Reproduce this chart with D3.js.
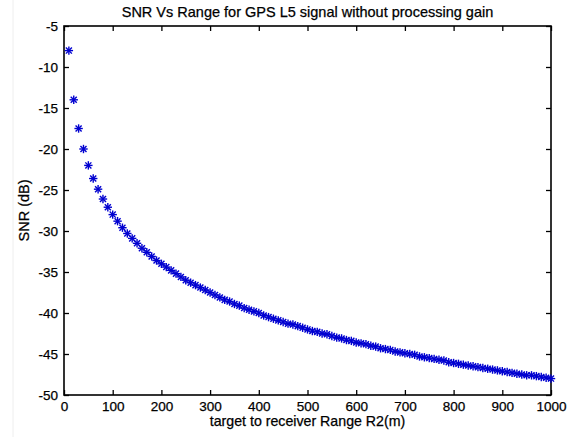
<!DOCTYPE html>
<html>
<head>
<meta charset="utf-8">
<script src="https://cdn.jsdelivr.net/npm/d3@7"></script>
<style>
  body { margin: 0; background: #fff; }
  svg text { font-family: Arial, "Liberation Sans", sans-serif; fill: #000; }
</style>
</head>
<body>
<script>
// target to receiver range R2 (m)
const range = [
  10, 20, 30, 40, 50, 60, 70, 80, 90, 100,
  110, 120, 130, 140, 150, 160, 170, 180, 190, 200,
  210, 220, 230, 240, 250, 260, 270, 280, 290, 300,
  310, 320, 330, 340, 350, 360, 370, 380, 390, 400,
  410, 420, 430, 440, 450, 460, 470, 480, 490, 500,
  510, 520, 530, 540, 550, 560, 570, 580, 590, 600,
  610, 620, 630, 640, 650, 660, 670, 680, 690, 700,
  710, 720, 730, 740, 750, 760, 770, 780, 790, 800,
  810, 820, 830, 840, 850, 860, 870, 880, 890, 900,
  910, 920, 930, 940, 950, 960, 970, 980, 990, 1000
];

// SNR (dB)
const snr = [
  -8.0, -14.0, -17.5, -20.0, -22.0, -23.6, -24.9, -26.1, -27.1, -28.0,
  -28.8, -29.6, -30.3, -30.9, -31.5, -32.1, -32.6, -33.1, -33.6, -34.0,
  -34.4, -34.8, -35.2, -35.6, -36.0, -36.3, -36.6, -36.9, -37.2, -37.5,
  -37.8, -38.1, -38.4, -38.6, -38.9, -39.1, -39.4, -39.6, -39.8, -40.0,
  -40.3, -40.5, -40.7, -40.9, -41.1, -41.3, -41.4, -41.6, -41.8, -42.0,
  -42.2, -42.3, -42.5, -42.6, -42.8, -43.0, -43.1, -43.3, -43.4, -43.6,
  -43.7, -43.8, -44.0, -44.1, -44.3, -44.4, -44.5, -44.7, -44.8, -44.9,
  -45.0, -45.1, -45.3, -45.4, -45.5, -45.6, -45.7, -45.8, -46.0, -46.1,
  -46.2, -46.3, -46.4, -46.5, -46.6, -46.7, -46.8, -46.9, -47.0, -47.1,
  -47.2, -47.3, -47.4, -47.5, -47.6, -47.6, -47.7, -47.8, -47.9, -48.0
];

const xTicks = [0, 100, 200, 300, 400, 500, 600, 700, 800, 900, 1000];
const yTicks = [-50, -45, -40, -35, -30, -25, -20, -15, -10, -5];

const width = 573;
const height = 437;
const margin = { top: 26, right: 22, bottom: 42, left: 64 };

const svg = d3
  .select("body")
  .append("svg")
  .attr("width", width)
  .attr("height", height);

const xScale = d3
  .scaleLinear()
  .domain([0, 1000])
  .range([margin.left, width - margin.right]);

const yScale = d3
  .scaleLinear()
  .domain([-50, -5])
  .range([height - margin.bottom, margin.top]);

// faint figure border on the left
svg
  .append("line")
  .attr("x1", 13)
  .attr("x2", 13)
  .attr("y1", 0)
  .attr("y2", height)
  .attr("stroke", "#eee");

// Axes (ticks inward, mirrored on top and right)
const tickLen = 5;
const plain = (d) => String(d);

svg
  .append("g")
  .attr("class", "xlab")
  .attr("transform", `translate(0, ${height - margin.bottom})`)
  .call(d3.axisBottom(xScale).tickValues(xTicks).tickSize(-tickLen).tickPadding(6).tickFormat(plain))
  .call((g) => g.select(".domain").remove());

svg
  .append("g")
  .attr("transform", `translate(0, ${margin.top})`)
  .call(d3.axisTop(xScale).tickValues(xTicks).tickSize(-tickLen).tickFormat(""))
  .call((g) => g.select(".domain").remove());

svg
  .append("g")
  .attr("transform", `translate(${margin.left}, 0)`)
  .call(d3.axisLeft(yScale).tickValues(yTicks).tickSize(-tickLen).tickPadding(6).tickFormat(plain))
  .call((g) => g.select(".domain").remove());

svg
  .append("g")
  .attr("transform", `translate(${width - margin.right}, 0)`)
  .call(d3.axisRight(yScale).tickValues(yTicks).tickSize(-tickLen).tickFormat(""))
  .call((g) => g.select(".domain").remove());

svg.selectAll(".tick line").attr("stroke", "#000").attr("stroke-width", 1.3);
svg
  .selectAll(".tick text")
  .style("font-size", "13.5px")
  .attr("stroke", "#000")
  .attr("stroke-width", 0.25);

// box
svg
  .append("rect")
  .attr("x", margin.left)
  .attr("y", margin.top)
  .attr("width", width - margin.left - margin.right)
  .attr("height", height - margin.top - margin.bottom)
  .attr("fill", "none")
  .attr("stroke", "#000")
  .attr("stroke-width", 1.6);

// Markers: MATLAB style '*'
const s = 4.2;
const marks = svg
  .append("g")
  .selectAll("g")
  .data(range.map((r, i) => [r, snr[i]]))
  .enter()
  .append("g")
  .attr("transform", (d) => `translate(${xScale(d[0])}, ${yScale(d[1])})`)
  .attr("stroke", "#0000d0")
  .attr("stroke-width", 1.4);

marks.append("line").attr("x1", -s).attr("x2", s).attr("y1", 0).attr("y2", 0);
marks.append("line").attr("x1", 0).attr("x2", 0).attr("y1", -s).attr("y2", s);
marks.append("line").attr("x1", -s * 0.72).attr("x2", s * 0.72).attr("y1", -s * 0.72).attr("y2", s * 0.72);
marks.append("line").attr("x1", -s * 0.72).attr("x2", s * 0.72).attr("y1", s * 0.72).attr("y2", -s * 0.72);

// Titles
const cx = (margin.left + width - margin.right) / 2;

svg
  .append("text")
  .attr("x", cx)
  .attr("y", 17)
  .attr("text-anchor", "middle")
  .attr("stroke", "#000")
  .attr("stroke-width", 0.25)
  .style("font-size", "14.5px")
  .text("SNR Vs Range for GPS L5 signal without processing gain");

svg
  .append("text")
  .attr("x", cx)
  .attr("y", 426)
  .attr("text-anchor", "middle")
  .attr("stroke", "#000")
  .attr("stroke-width", 0.25)
  .style("font-size", "14.2px")
  .text("target to receiver Range R2(m)");

svg
  .append("text")
  .attr("transform", `translate(29, ${(margin.top + height - margin.bottom) / 2}) rotate(-90)`)
  .attr("text-anchor", "middle")
  .attr("stroke", "#000")
  .attr("stroke-width", 0.25)
  .style("font-size", "14.5px")
  .text("SNR (dB)");
</script>
</body>
</html>
